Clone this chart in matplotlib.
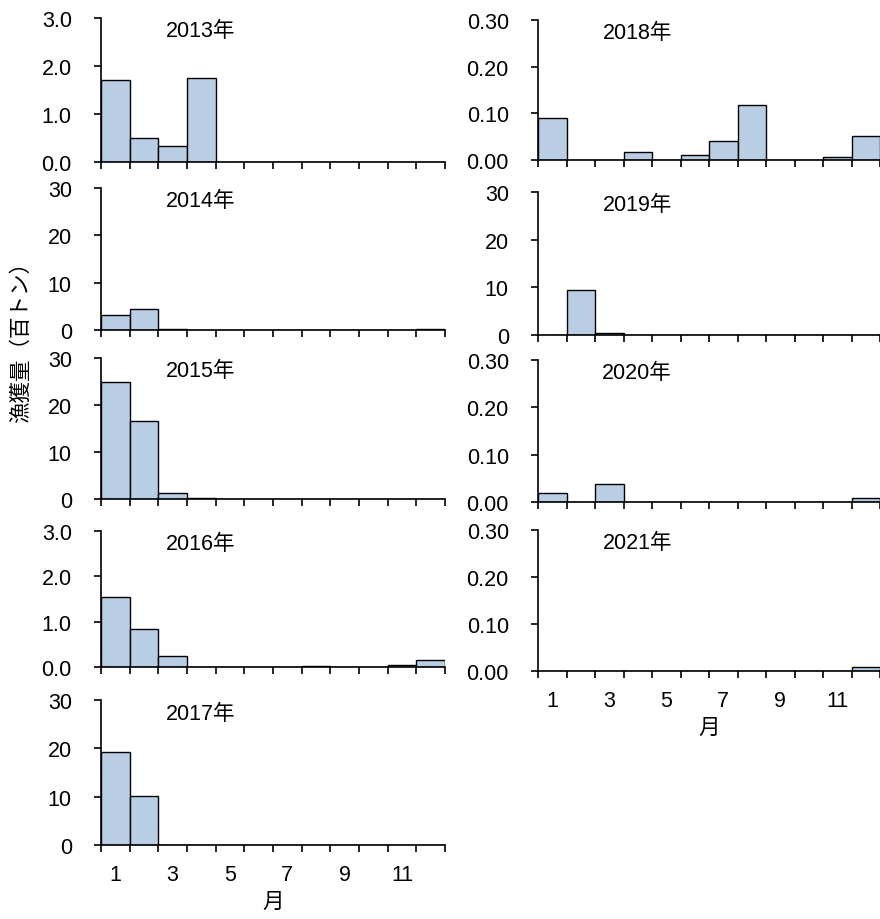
import matplotlib
matplotlib.use("Agg")
import matplotlib.pyplot as plt
from matplotlib.ticker import FormatStrFormatter, FixedLocator

plt.rcParams['font.family'] = ['Liberation Sans', 'Noto Sans CJK JP', 'DejaVu Sans']

months = list(range(1, 13))
years = [2013, 2014, 2015, 2016, 2017, 2018, 2019, 2020, 2021]

# Monthly catch (hundred tonnes)
catch_2013 = [1.71, 0.49, 0.34, 1.75, 0, 0, 0, 0, 0, 0, 0, 0]
catch_2014 = [3.2, 4.5, 0.2, 0, 0, 0, 0, 0.1, 0, 0, 0.1, 0.3]
catch_2015 = [24.8, 16.7, 1.2, 0.3, 0, 0, 0, 0, 0, 0, 0, 0]
catch_2016 = [1.54, 0.84, 0.25, 0, 0, 0, 0, 0.02, 0, 0, 0.05, 0.15]
catch_2017 = [19.3, 10.1, 0.1, 0, 0, 0, 0, 0, 0, 0, 0.1, 0]
catch_2018 = [0.091, 0, 0, 0.018, 0, 0.010, 0.040, 0.117, 0, 0, 0.006, 0.051]
catch_2019 = [0, 9.35, 0.42, 0, 0, 0, 0, 0, 0, 0, 0, 0]
catch_2020 = [0.018, 0, 0.037, 0, 0, 0, 0, 0, 0, 0, 0, 0.009]
catch_2021 = [0, 0, 0, 0, 0, 0, 0, 0, 0, 0, 0, 0.009]

catch = {2013: catch_2013, 2014: catch_2014, 2015: catch_2015,
         2016: catch_2016, 2017: catch_2017, 2018: catch_2018,
         2019: catch_2019, 2020: catch_2020, 2021: catch_2021}

y_max = {2013: 3.0, 2014: 30, 2015: 30, 2016: 3.0, 2017: 30,
         2018: 0.30, 2019: 30, 2020: 0.30, 2021: 0.30}
y_fmt = {2013: '%.1f', 2014: '%d', 2015: '%d', 2016: '%.1f', 2017: '%d',
         2018: '%.2f', 2019: '%d', 2020: '%.2f', 2021: '%.2f'}

x_ticklabels = ['1', '3', '5', '7', '9', '11']

W, H = 880, 920
fig = plt.figure(figsize=(W / 100, H / 100), dpi=100)

# panel boxes in pixels: (left, top, right, bottom)
boxes = {
    2013: (101, 19, 445, 163),
    2014: (101, 189, 445, 331),
    2015: (101, 359, 445, 500),
    2016: (101, 532, 445, 668),
    2017: (101, 701, 445, 846),
    2018: (538, 21, 880, 161),
    2019: (538, 193, 880, 336),
    2020: (538, 361, 880, 503),
    2021: (538, 531, 880, 672),
}
bottom_panels = {2017, 2021}

FS = 15.5
bar_fill = '#B9CDE5'

for yr in years:
    l, t, r, b = boxes[yr]
    ax = fig.add_axes([l / W, 1 - b / H, (r - l) / W, (b - t) / H])
    ax.bar(months, catch[yr], width=1.0, color=bar_fill,
           edgecolor='black', linewidth=1.0, zorder=2)
    ax.set_xlim(0.5, 12.5)
    ax.set_ylim(0, y_max[yr])
    step = y_max[yr] / 3
    ax.set_yticks([step * i for i in range(4)])
    ax.yaxis.set_major_formatter(FormatStrFormatter(y_fmt[yr]))
    for s in ('top', 'right'):
        ax.spines[s].set_visible(False)
    for s in ('left', 'bottom'):
        ax.spines[s].set_linewidth(1.2)
        ax.spines[s].set_zorder(3)
    ax.spines['bottom'].set_clip_on(False)
    # tick marks at month boundaries, labels at odd months
    ax.xaxis.set_major_locator(FixedLocator([m + 0.5 for m in range(0, 13)]))
    ax.xaxis.set_minor_locator(FixedLocator([1, 3, 5, 7, 9, 11]))
    ax.tick_params(axis='x', which='major', direction='out', length=5,
                   width=1.2, labelbottom=False)
    if yr in bottom_panels:
        ax.set_xticklabels(x_ticklabels, minor=True)
        ax.tick_params(axis='x', which='minor', length=0, pad=14,
                       labelsize=FS)
        ax.set_xlabel('月', fontsize=FS, labelpad=4)
    else:
        ax.tick_params(axis='x', which='minor', length=0, labelbottom=False)
    ax.tick_params(axis='y', direction='out', length=5, width=1.2,
                   labelsize=FS, pad=16)
    ax.text(0.29, 0.91, f'{yr}年', transform=ax.transAxes, fontsize=FS,
            ha='center', va='center')

fig.text(22 / W, 1 - 337 / H, '漁獲量（百トン）', rotation=90, fontsize=FS,
         ha='center', va='center')

fig.savefig('out.png', dpi=100)
